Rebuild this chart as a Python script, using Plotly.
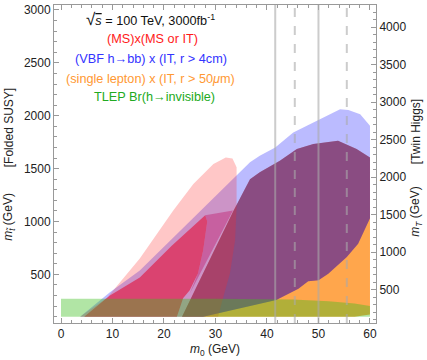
import plotly.graph_objects as go

# ---------------- data ----------------
# light red region: (MS)x(MS or IT)
red_light_x = [3.7, 9.0, 15.3, 19.2, 21.8, 25.7, 29.6, 32.0, 33.3, 34.1, 34.1, 33.8, 32.8, 31.5, 30.5]
red_light_y = [100, 280, 650, 915, 1103, 1355, 1544, 1606, 1595, 1512, 1134, 820, 509, 283, 100]

# dark red region
red_dark_x = [4.5, 9.5, 15.3, 21.5, 28.0, 28.4, 27.6, 26.6, 25.0, 23.7, 22.5]
red_dark_y = [100, 300, 470, 770, 1060, 1000, 726, 509, 349, 273, 100]

# medium red sliver between dark red and the purple region
red_mid_x = [28.0, 33.4, 25.0, 26.6, 27.6, 28.4]
red_mid_y = [1060, 1103, 320, 509, 726, 1000]

# light blue region: VBF h->bb
blue_light_x = [3.7, 9.5, 15.3, 36.7, 38.6, 41.6, 45.1, 49.6, 54.2, 55.8, 58.1, 60.0,
                60.0, 57.7, 55.5, 51.9, 50.0, 48.0, 46.1, 41.8, 27.6]
blue_light_y = [100, 330, 537, 1559, 1622, 1700, 1842, 1952, 2062, 2053, 2015, 1905,
                1030, 789, 663, 506, 445, 434, 365, 258, 100]

# orange region: single lepton
orange_x = [23.5, 33.4, 36.7, 38.6, 42.5, 45.8, 49.0, 53.8, 57.4, 60.0, 60.0, 57.0]
orange_y = [100, 1093, 1400, 1465, 1575, 1685, 1732, 1763, 1685, 1606, 120, 100]

# dark (purple) overlap region
purple_x = [23.5, 33.4, 36.7, 38.6, 42.5, 45.8, 49.0, 53.8, 57.4, 60.0, 60.0,
            57.7, 55.5, 51.9, 50.0, 48.0, 46.1, 41.8, 27.6]
purple_y = [100, 1093, 1400, 1465, 1575, 1685, 1732, 1763, 1685, 1606, 1030,
            789, 663, 506, 445, 434, 365, 258, 100]

# green band: TLEP Br(h->invisible)
green_x = [0, 0, 30, 45, 52, 57, 60, 60]
green_y = [100, 270, 270, 262, 245, 225, 200, 100]

# vertical reference lines
vline_solid = [41.6, 50.0]
vline_dash = [45.4, 55.5]

x_ticks = [0, 10, 20, 30, 40, 50, 60]
y_ticks = [500, 1000, 1500, 2000, 2500, 3000]
y2_ticks = [500, 1000, 1500, 2000, 2500, 3000, 3500, 4000]

# ---------------- figure ----------------
fig = go.Figure()

def region(x, y, color):
    fig.add_trace(go.Scatter(x=x, y=y, fill="toself", fillcolor=color, mode="lines",
                             line=dict(width=0, color=color), hoverinfo="skip",
                             showlegend=False))

region(orange_x, orange_y, "rgba(255,128,0,0.7)")
region(blue_light_x, blue_light_y, "rgba(60,60,255,0.35)")
region(purple_x, purple_y, "rgba(80,10,120,0.45)")
region(red_light_x, red_light_y, "rgba(255,40,40,0.26)")
region(red_mid_x, red_mid_y, "rgba(190,0,90,0.35)")
region(red_dark_x, red_dark_y, "rgba(230,0,40,0.55)")
region(green_x, green_y, "rgba(60,190,30,0.4)")

for xv in vline_solid:
    fig.add_vline(x=xv, line=dict(color="rgba(170,170,170,0.6)", width=2))
for xv in vline_dash:
    fig.add_vline(x=xv, line=dict(color="rgba(170,170,170,0.6)", width=2, dash="dash"))

# dummy trace to show the right axis
fig.add_trace(go.Scatter(x=[None], y=[None], yaxis="y2", showlegend=False, hoverinfo="skip"))

font_family = "Liberation Sans, Arial, sans-serif"
axis_common = dict(ticks="inside", ticklen=5, tickcolor="#999", showline=True,
                   linecolor="#999", linewidth=1, showgrid=False, zeroline=False,
                   tickfont=dict(size=12, color="#222", family=font_family))

fig.update_layout(
    width=427, height=360,
    margin=dict(l=54, r=51, t=3, b=37),
    paper_bgcolor="white", plot_bgcolor="white",
    font=dict(family=font_family, size=12, color="#222"),
    xaxis=dict(range=[-1.36, 61.17], tickvals=x_ticks, mirror="ticks",
               minor=dict(dtick=2, ticklen=3, ticks="inside", tickcolor="#999"),
               title=dict(text="<i>m</i><sub>0</sub> (GeV)", standoff=4,
                          font=dict(size=12, color="#222")),
               **axis_common),
    yaxis=dict(range=[40, 3047], tickvals=y_ticks,
               minor=dict(dtick=100, ticklen=3, ticks="inside", tickcolor="#999"),
               **axis_common),
    yaxis2=dict(range=[40 * 1.41, 3047 * 1.41], tickvals=y2_ticks, overlaying="y",
                side="right",
                minor=dict(dtick=100, ticklen=3, ticks="inside", tickcolor="#999"),
                **axis_common),
)

ann = [
    dict(text="[Folded SUSY]", x=0, xshift=-45, y=0.6125),
    dict(text="<i>m</i><sub><i>t̃</i></sub> (GeV)", x=0, xshift=-45, y=0.334),
    dict(text="[Twin Higgs]", x=1, xshift=40, y=0.60),
    dict(text="<i>m</i><sub><i>T</i></sub> (GeV)", x=1, xshift=40, y=0.35),
]
for a in ann:
    fig.add_annotation(xref="paper", yref="paper", textangle=-90, showarrow=False,
                       xanchor="center", yanchor="middle",
                       font=dict(size=12, color="#222"), **a)

labels = [
    ("<span style='font-size:17px'>√</span><span style='text-decoration:overline'><i>s</i></span>"
     " = 100 TeV, 3000fb<sup>-1</sup>", "#111", 150, 18),
    ("(MS)x(MS or IT)", "#ff1a1a", 152, 37),
    ("(VBF h→bb) x (IT, r &gt; 4cm)", "#3333ff", 151, 57),
    ("(single lepton) x (IT, r &gt; 50<i>μ</i>m)", "#ff9933", 150, 77),
    ("TLEP Br(h→invisible)", "#22aa22", 154, 96),
]
for text, color, px, py in labels:
    fig.add_annotation(xref="paper", yref="paper", x=(px - 54) / 322, y=(323 - py) / 320,
                       text=text, showarrow=False, xanchor="center", yanchor="middle",
                       font=dict(size=12.7, color=color))

fig.write_html("out.html", config={"displayModeBar": False},
               post_script="document.body.style.margin='0';document.body.style.overflow='hidden';")
